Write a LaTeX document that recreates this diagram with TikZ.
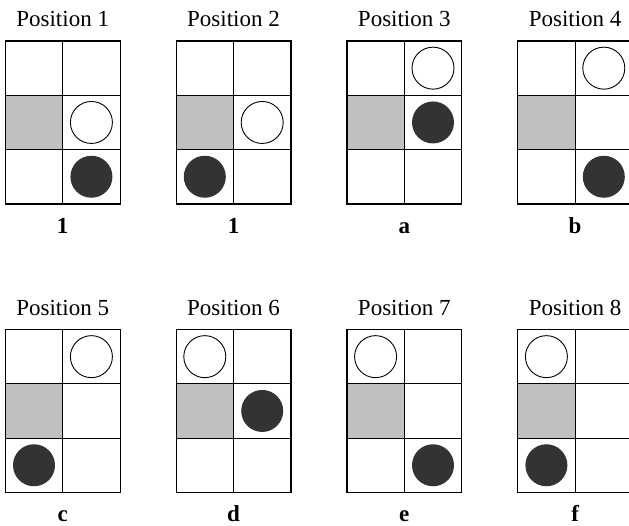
\documentclass[tikz,border=0pt]{standalone}
\usepackage{fontspec}
\setmainfont{LiberationSerif}[Extension=.ttf, UprightFont=*-Regular, BoldFont=*-Bold]
\definecolor{cellgray}{HTML}{C0C0C0}
\definecolor{stoneblack}{HTML}{333333}
\begin{document}
\begin{tikzpicture}[x=1pt,y=-1pt,
  cell/.style={draw, line width=1.2pt, minimum width=57.4pt, minimum height=54.3pt, inner sep=0pt, outer sep=0pt},
  wstone/.style={circle, draw, line width=0.9pt, fill=white, minimum size=42pt, inner sep=0pt},
  bstone/.style={circle, fill=stoneblack, minimum size=42pt, inner sep=0pt},
  title/.style={font=\fontsize{23}{27}\selectfont, anchor=base, inner sep=0pt},
  tag/.style={font=\fontsize{23}{27}\selectfont\bfseries, anchor=base, inner sep=0pt}]
\useasboundingbox (0,0) rectangle (629,525);
\clip (0,0) rectangle (629,525);
\foreach \n/\wc/\wr/\bc/\br/\lab [count=\k from 0] in
  {1/1/1/1/2/1, 2/1/1/0/2/1, 3/1/0/1/1/a, 4/1/0/1/2/b,
   5/1/0/0/2/c, 6/0/0/1/1/d, 7/0/0/1/2/e, 8/0/0/0/2/f} {
  \pgfmathsetmacro\gx{5.3+170.8*mod(\k,4)}
  \pgfmathsetmacro\gy{41+288.5*int(\k/4)}
  \foreach \c/\r/\f in {0/0/white,1/0/white,0/1/cellgray,1/1/white,0/2/white,1/2/white}
    \node[cell, fill=\f] (p\n-\c\r) at (\gx+28.7+57.4*\c, \gy+27.15+54.3*\r) {};
  \node[wstone] (w\n) at (p\n-\wc\wr) {};
  \node[bstone] (b\n) at (p\n-\bc\br) {};
  \node[title] (t\n) at (\gx+57.4, \gy-14.3) {Position \n};
  \node[tag] (l\n) at (\gx+57.4, \gy+192) {\lab};
}
\end{tikzpicture}
\end{document}
